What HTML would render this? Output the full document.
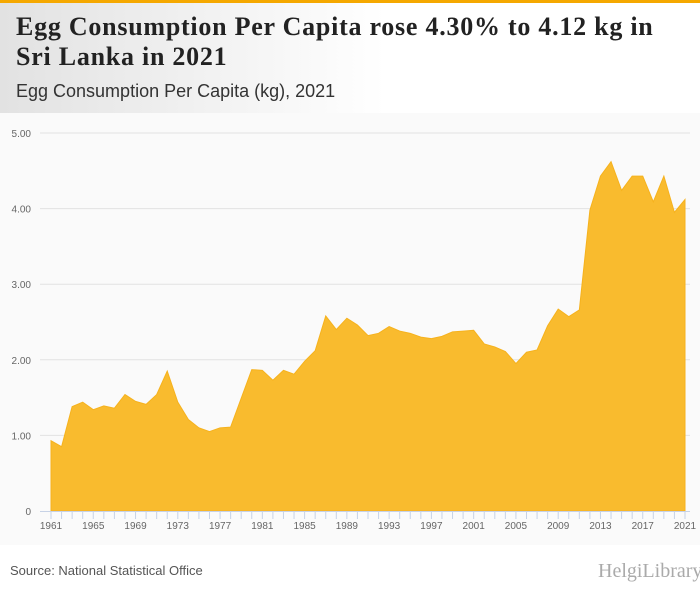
<!DOCTYPE html>
<html><head><meta charset="utf-8"><style>
body{margin:0;width:700px;height:596px;background:#fff;font-family:"Liberation Sans",sans-serif;position:relative;overflow:hidden}
#top{position:absolute;left:0;top:0;width:700px;height:3px;background:#f5a800}
#hdr{position:absolute;left:0;top:3px;width:700px;height:110px;background:linear-gradient(90deg,#e2e2e2,#fff 55%)}
h1{position:absolute;left:16px;top:12px;margin:0;font:bold 26px/30px "Liberation Serif",serif;color:#222;width:655px;letter-spacing:0.75px}
#sub{position:absolute;left:16px;top:81px;font-size:18px;color:#333}
#src{position:absolute;left:10px;top:563px;font-size:13px;color:#555}
#logo{position:absolute;left:598px;top:560px;font:20px "Liberation Serif",serif;color:#aaa}
</style></head><body>
<div id="top"></div>
<div id="hdr"></div>
<h1>Egg Consumption Per Capita rose 4.30% to 4.12 kg in Sri Lanka in 2021</h1>
<div id="sub">Egg Consumption Per Capita (kg), 2021</div>
<svg id="chart" style="position:absolute;left:0;top:113px" width="700" height="432"></svg>
<div id="src">Source: National Statistical Office</div>
<div id="logo">HelgiLibrary</div>
<script>
const years=[];for(let y=1961;y<=2021;y++)years.push(y);
const values=[0.93,0.85,1.38,1.44,1.34,1.39,1.36,1.54,1.45,1.41,1.54,1.85,1.44,1.21,1.10,1.05,1.10,1.11,1.49,1.87,1.86,1.73,1.86,1.81,1.98,2.12,2.58,2.40,2.55,2.46,2.32,2.35,2.44,2.38,2.35,2.30,2.28,2.31,2.37,2.38,2.39,2.21,2.17,2.11,1.95,2.10,2.13,2.45,2.67,2.57,2.66,3.98,4.43,4.62,4.24,4.43,4.43,4.09,4.43,3.95,4.12];
const yTicks=[0,1,2,3,4,5];
const yTickLabels=["0","1.00","2.00","3.00","4.00","5.00"];
const xLabelYears=[1961,1965,1969,1973,1977,1981,1985,1989,1993,1997,2001,2005,2009,2013,2017,2021];
const NS="http://www.w3.org/2000/svg",svg=document.getElementById('chart');
svg.innerHTML='<rect width="700" height="432" fill="#fafafa"/>';
const OY=113;
const x=y=>51+(y-1961)*(685-51)/60;
const yv=v=>511-OY-v*75.6;
function mk(t,a){const e=document.createElementNS(NS,t);for(const k in a)e.setAttribute(k,a[k]);svg.appendChild(e);return e;}
yTicks.forEach((t,i)=>{
 if(t>0){const g=mk('line',{x1:40,x2:690,y1:yv(t),y2:yv(t),stroke:'#e2e2e2'});
 
 }
 const l=mk('text',{x:31,y:yv(t)+4,'text-anchor':'end','font-size':'10',fill:'#666'});l.textContent=yTickLabels[i];
 
 
});
let d='M'+x(years[0])+','+yv(0);
years.forEach((y,i)=>d+=' L'+x(y)+','+yv(values[i]));
d+=' L'+x(years[years.length-1])+','+yv(0)+'Z';
const a=mk('path',{d:d,fill:'#f9bb2e',stroke:'#f6b21d','stroke-width':1});


mk('line',{x1:40,x2:690,y1:yv(0)+0.5,y2:yv(0)+0.5,stroke:'#c7d2e6'});
years.forEach(y=>{mk('line',{x1:x(y),x2:x(y),y1:yv(0),y2:yv(0)+8,stroke:'#c7d2e6'});});
xLabelYears.forEach(y=>{const t=mk('text',{x:x(y),y:yv(0)+18,'text-anchor':'middle','font-size':'10',fill:'#666'});t.textContent=y;
 
 });
</script>
</body></html>
